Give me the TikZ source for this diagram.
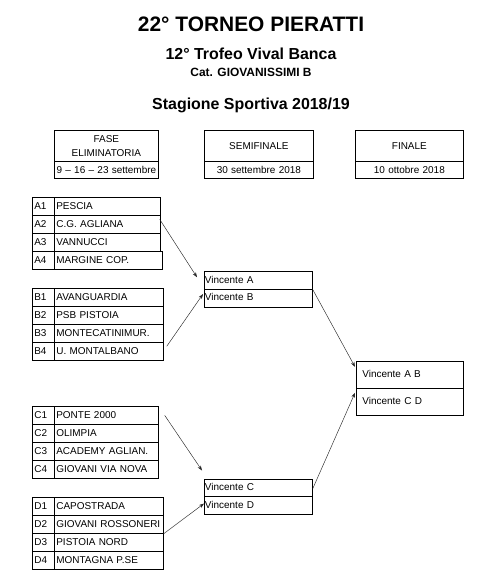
\documentclass[tikz,border=0pt]{standalone}
\usepackage{fontspec}
\setmainfont{Liberation Sans}
\usetikzlibrary{arrows.meta}
\newcommand\teamrow[4]{%
  \node[cellbox,text width=18bp] (#1l) at (32,#2) {#1};
  \node[cellbox,text width=#3] (#1t) at (54,#2) {#4};}
\begin{document}
\begin{tikzpicture}[x=1bp,y=-1bp,
  basebox/.style={draw, line width=0.7bp, anchor=north west, inner xsep=2bp, inner ysep=0pt,
    font=\fontsize{10}{12}\selectfont},
  cellbox/.style={basebox, minimum height=18bp, text height=7.3bp, text depth=1.5bp, align=left},
  headbox/.style={basebox, align=center, text width=#1},
  semibox/.style={cellbox, inner xsep=0.6bp, text width=106.8bp, minimum height=17.8bp},
  finbox/.style={cellbox, inner xsep=6bp, text width=95bp, minimum height=27bp},
  link/.style={line width=0.45bp, black!85, -{Stealth[length=5bp,width=3.6bp]}},
  ttl/.style={anchor=base, inner sep=0pt}]
\useasboundingbox (0,0) rectangle (481,580);
% titles
\node[ttl, font=\bfseries\fontsize{21}{24}\selectfont] (t1) at (251,32) {22° TORNEO PIERATTI};
\node[ttl, font=\bfseries\fontsize{16}{18}\selectfont] (t2) at (251,60) {12° Trofeo Vival Banca};
\node[ttl, font=\bfseries\fontsize{12}{14}\selectfont] (t3) at (251,77) {Cat. GIOVANISSIMI B};
\node[ttl, font=\bfseries\fontsize{16}{18}\selectfont] (t4) at (251,110) {Stagione Sportiva 2018/19};
% header boxes
\node[headbox=100bp, minimum height=31bp, font=\fontsize{10}{14.5}\selectfont] (h1a) at (54,130) {FASE\\ELIMINATORIA};
\node[headbox=100bp, minimum height=17bp] (h1b) at (54,161) {9 -- 16 -- 23 settembre};
\node[headbox=105bp, minimum height=31bp] (h2a) at (204,130) {SEMIFINALE};
\node[headbox=105bp, minimum height=17bp] (h2b) at (204,161) {30 settembre 2018};
\node[headbox=104bp, minimum height=31bp] (h3a) at (355,130) {FINALE};
\node[headbox=104bp, minimum height=17bp] (h3b) at (355,161) {10 ottobre 2018};
% groups
\teamrow{A1}{197}{102bp}{PESCIA}
\teamrow{A2}{215}{102bp}{C.G. AGLIANA}
\teamrow{A3}{233}{102bp}{VANNUCCI}
\teamrow{A4}{251}{104bp}{MARGINE COP.}
\teamrow{B1}{288}{105bp}{AVANGUARDIA}
\teamrow{B2}{306}{105bp}{PSB PISTOIA}
\teamrow{B3}{324}{105bp}{MONTECATINIMUR.}
\teamrow{B4}{342}{105bp}{U. MONTALBANO}
\teamrow{C1}{406}{100bp}{PONTE 2000}
\teamrow{C2}{424}{100bp}{OLIMPIA}
\teamrow{C3}{442}{100bp}{ACADEMY AGLIAN.}
\teamrow{C4}{460}{100bp}{GIOVANI VIA NOVA}
\teamrow{D1}{497}{105bp}{CAPOSTRADA}
\teamrow{D2}{515}{105bp}{GIOVANI ROSSONERI}
\teamrow{D3}{533}{105bp}{PISTOIA NORD}
\teamrow{D4}{551}{105bp}{MONTAGNA P.SE}
% semifinals
\node[semibox] (SA) at (204,271) {Vincente A};
\node[semibox] (SB) at (204,288.8) {Vincente B};
\node[semibox] (SC) at (204,478.5) {Vincente C};
\node[semibox] (SD) at (204,496.3) {Vincente D};
% final
\node[finbox] (FA) at (356,361) {Vincente A B};
\node[finbox] (FB) at (356,388) {Vincente C D};
% connectors
\draw[link] ([xshift=-1bp,yshift=5bp]A2t.east) -- ([xshift=-7bp,yshift=3bp]SA.west);
\draw[link] ([xshift=3bp,yshift=5bp]B4t.east) -- ([xshift=-1bp,yshift=4bp]SB.west);
\draw[link] ([xshift=6bp]C1t.east) -- ([xshift=-2bp,yshift=8bp]SC.north west);
\draw[link] (D2t.south east) -- ([yshift=2bp]SD.west);
\draw[link] (SA.south east) -- ([xshift=-1bp,yshift=8bp]FA.west);
\draw[link] ([yshift=-1bp]SC.east) -- ([xshift=-1bp,yshift=9bp]FB.west);
\end{tikzpicture}
\end{document}
